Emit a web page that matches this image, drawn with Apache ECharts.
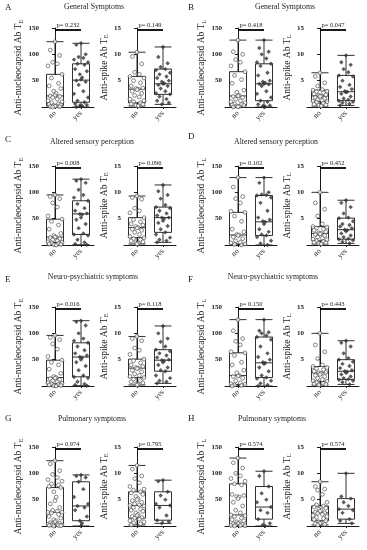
<!DOCTYPE html>
<html><head><meta charset="utf-8">
<script src="https://cdn.jsdelivr.net/npm/echarts@6/dist/echarts.min.js"></script>
<style>html,body{margin:0;padding:0;background:#fff}#c{width:367px;height:550px}</style>
</head><body><div id="c"></div>
<script>
const categories = ['no', 'yes'];
const panelLetters = ['A', 'B', 'C', 'D', 'E', 'F', 'G', 'H'];
const panelTitles = ['General Symptoms', 'General Symptoms', 'Altered sensory perception', 'Altered sensory perception',
  'Neuro-psychiatric symptoms', 'Neuro-psychiatric symptoms', 'Pulmonary symptoms', 'Pulmonary symptoms'];
const timepoint = ['E', 'L', 'E', 'L', 'E', 'L', 'E', 'L'];
const pNucleocapsid = ['0.232', '0.418', '0.008', '0.102', '0.016', '0.150', '0.974', '0.574'];
const pSpike = ['0.149', '0.047', '0.096', '0.452', '0.118', '0.443', '0.795', '0.574'];
const nucTicks = [0, 50, 100, 150];
const spikeTicks = [0, 5, 10, 15];

// box stats [min, Q1, median, Q3, max]
const nucBoxNo = [[0,3,21,62,124],[0,3,21,67,127],[0,5,15,49,95],[0,2,19,62,128],[0,4,16,49,96],[0,3,20,63,126],[0,3,26,73,124],[0,1,21,80,129]];
const nucBoxYes = [[0,9,51,82,121],[0,12,44,82,127],[0.5,20,59,84,125],[0,18,44,94,128],[0.5,17.5,55,82,124],[0,16,44,93,126],[0,10,38,84,97],[0,13,36,75,104]];
const spikeBoxNo = [[0.2,0.8,3.4,5.8,10.4],[0.2,1.0,2.1,3.2,6.5],[0.2,1.4,3.3,5.2,9.3],[0.2,0.8,2.2,3.5,10],[0.2,1.6,3.4,5.1,9.4],[0.2,0.9,2.5,3.7,10],[0.2,1.5,3.9,6.5,11.5],[0.2,1.0,2.5,3.8,8.4]];
const spikeBoxYes = [[0.5,2.4,4.4,7.2,11.4],[0.3,1.2,2.9,6.0,9.8],[0.5,2.4,5.2,7.2,11.4],[0.3,1.1,2.9,5.1,8.5],[0.5,2.8,4.9,6.9,11.4],[0.3,1.25,2.8,5.0,8.6],[0.5,1.1,3.9,6.5,8.7],[0.5,1.3,3.2,5.2,10]];

// individual values
const nucPtsNo = [
  [124,108,98,85,82,78,62,55,45,40,35,30,26,22,21,20,18,15,12,10,8,6,5,4,3,2,1.5,1,0.5,0],
  [127,105,100,90,85,78,67,60,52,45,32,28,22,21,20,18,15,12,10,8,6,5,4,3,2,1,0.5,0],
  [95,92,88,80,72,55,49,45,38,30,22,18,15,15,14,12,10,8,6,5,4,3,2,1,0.5,0],
  [128,110,92,88,80,64,62,55,45,30,25,20,19,18,15,12,8,5,4,2,1,0],
  [96,92,88,80,70,56,49,45,40,32,24,18,16,15,14,12,10,8,6,5,4,3,2,1,0.5,0],
  [126,105,90,85,78,65,63,58,45,40,30,25,20,19,18,15,10,6,4,3,2,1,0],
  [124,118,105,98,92,88,85,80,78,75,73,65,55,48,42,35,30,28,26,26,25,22,18,15,12,10,8,6,5,4,3,3,2,2,1,1,0.5,0],
  [129,120,110,100,95,90,85,80,78,60,58,56,55,52,45,38,30,25,21,20,18,15,12,10,8,6,5,4,3,2,1,1,0.5,0]
];
const nucPtsYes = [
  [121,118,100,95,93,90,85,82,80,72,68,62,56,52,50,48,42,30,25,18,12,9,6,4,3,2,1,0],
  [127,112,105,100,92,85,82,78,65,60,50,48,46,44,44,43,40,30,25,18,12,10,5,3,2,1,0],
  [125,122,118,105,95,90,84,78,70,65,60,59,58,52,48,40,32,22,20,18,10,5,2,0.5],
  [128,118,100,96,95,94,90,80,65,52,48,45,44,40,30,25,20,18,15,8,3,0],
  [124,122,115,100,90,86,82,75,68,62,58,55,54,50,45,38,30,20,17,15,8,4,2,0.5],
  [126,105,102,100,96,93,88,75,62,55,50,45,44,42,35,28,20,16,14,10,5,2,0],
  [97,95,92,84,70,55,42,38,35,30,18,10,5,0],
  [104,95,75,62,50,45,36,30,25,13,5,2,0]
];
const spikePtsNo = [
  [10.4,9.6,8.2,6.6,6.2,5.8,5.5,5.0,4.6,4.0,3.6,3.5,3.4,3.3,3.0,2.6,2.2,1.9,1.5,1.2,1.0,0.8,0.6,0.5,0.3,0.2],
  [6.5,5.8,4.6,4.0,3.3,3.2,3.0,2.9,2.7,2.5,2.3,2.2,2.1,2.0,1.8,1.6,1.4,1.2,1.1,1.0,0.9,0.7,0.5,0.4,0.3,0.2],
  [9.3,9.0,8.7,7.0,6.5,6.1,5.2,4.8,4.4,4.0,3.8,3.5,3.3,3.2,3.0,2.8,2.4,2.0,1.6,1.4,1.2,1.0,0.8,0.6,0.4,0.3,0.2],
  [10,8.0,6.8,5.5,4.0,3.5,3.4,3.2,3.0,2.8,2.5,2.3,2.2,2.1,2.0,1.8,1.5,1.3,1.1,1.0,0.8,0.7,0.5,0.4,0.3,0.2],
  [9.4,9.0,8.6,7.2,6.8,6.0,5.1,4.8,4.4,4.0,3.7,3.5,3.4,3.3,3.0,2.7,2.3,2.0,1.8,1.6,1.3,1.0,0.8,0.6,0.4,0.3,0.2],
  [10,7.8,6.5,5.2,4.0,3.7,3.5,3.3,3.1,2.8,2.6,2.5,2.4,2.2,2.0,1.8,1.5,1.2,1.0,0.9,0.7,0.5,0.4,0.3,0.2],
  [11.5,10.8,9.5,9.0,8.2,7.5,7.0,6.8,6.5,6.3,6.0,5.6,5.2,5.0,4.8,4.5,4.2,4.0,3.9,3.8,3.5,3.2,3.0,2.8,2.5,2.2,2.0,1.8,1.6,1.5,1.3,1.0,0.8,0.6,0.4,0.2],
  [8.4,7.5,7.0,6.8,6.0,5.2,4.5,4.0,3.8,3.6,3.4,3.2,3.0,2.8,2.6,2.5,2.4,2.2,2.0,1.8,1.6,1.4,1.2,1.0,0.8,0.6,0.5,0.4,0.3,0.2]
];
const spikePtsYes = [
  [11.4,9.5,8.3,7.6,7.2,7.0,6.5,6.2,5.8,5.5,5.0,4.8,4.5,4.4,4.2,4.0,3.5,3.0,2.6,2.4,2.0,1.5,1.2,0.8,0.5],
  [9.8,8.5,8.0,7.2,6.6,6.0,5.8,5.0,4.2,3.8,3.4,3.0,2.9,2.8,2.5,2.0,1.6,1.4,1.2,1.0,0.8,0.6,0.3],
  [11.4,10.2,9.5,8.8,7.6,7.2,7.0,6.5,6.0,5.6,5.2,5.2,5.0,4.6,4.2,3.6,3.0,2.4,2.0,1.4,1.0,0.8,0.5],
  [8.5,8.0,7.2,6.0,5.2,5.1,4.5,4.0,3.8,3.5,3.2,2.9,2.8,2.6,2.2,1.8,1.5,1.2,1.1,0.9,0.6,0.3],
  [11.4,10.0,9.0,8.4,7.5,6.9,6.6,6.2,5.8,5.4,5.0,4.9,4.8,4.5,4.0,3.5,3.0,2.8,2.0,1.5,1.0,0.8,0.5],
  [8.6,8.2,7.5,6.2,5.3,5.0,4.6,4.2,3.8,3.4,3.0,2.8,2.7,2.5,2.2,1.8,1.5,1.3,1.2,1.0,0.7,0.3],
  [8.7,8.5,6.5,5.8,5.0,4.2,3.9,3.5,2.0,1.1,0.8,0.5],
  [10,5.6,5.2,4.5,3.8,3.2,3.0,2.5,1.3,1.0,0.5]
];

// layout (not data)
const jitter = [0, -0.6, 0.6, -0.3, 0.3, -0.9, 0.9, -0.45, 0.45, -0.75, 0.75, -0.15, 0.15];
const colX = [0, 183];
const subX = [42, 124];
const rowTop = [28, 166, 307, 447];
const plotH = 79, plotW = 52;
const letterY = [8, 8, 140, 137, 280, 280, 419, 419];
const titleY = [7, 7, 142, 142, 277, 277, 419, 419];
const titleX = [94, 285, 92, 276, 93, 273, 92, 272];
const SERIF = "'Liberation Serif','Times New Roman',serif";
const INK = '#1a1a1a';

const grid = [], xAxis = [], yAxis = [], series = [], graphic = [];

for (let p = 0; p < 8; p++) {
  const col = p % 2, row = Math.floor(p / 2);
  graphic.push({type: 'text', x: colX[col] + 5, y: letterY[p],
    style: {text: panelLetters[p], fontSize: 9, fontFamily: SERIF, fill: INK, verticalAlign: 'middle'}});
  graphic.push({type: 'text', x: titleX[p], y: titleY[p],
    style: {text: panelTitles[p], fontSize: 7.8, fontFamily: SERIF, fill: INK, align: 'center', verticalAlign: 'middle'}});
  for (let s = 0; s < 2; s++) {
    const g = p * 2 + s;
    const ticks = s === 0 ? nucTicks : spikeTicks;
    const yMax = ticks[ticks.length - 1];
    const boxes = s === 0 ? [nucBoxNo[p], nucBoxYes[p]] : [spikeBoxNo[p], spikeBoxYes[p]];
    const ptsNo = s === 0 ? nucPtsNo[p] : spikePtsNo[p];
    const ptsYes = s === 0 ? nucPtsYes[p] : spikePtsYes[p];
    const pv = s === 0 ? pNucleocapsid[p] : pSpike[p];
    const label = s === 0 ? 'Anti-nucleocapsid Ab T' : 'Anti-spike Ab T';
    grid.push({left: colX[col] + subX[s], top: rowTop[row], width: plotW, height: plotH, containLabel: false});
    xAxis.push({type: 'category', gridIndex: g, data: categories, boundaryGap: true,
      axisLine: {lineStyle: {color: INK, width: 1}},
      axisTick: {show: true, alignWithLabel: true, length: 2, lineStyle: {color: INK}},
      axisLabel: {rotate: 45, fontSize: 7.5, fontFamily: SERIF, color: INK, margin: 5},
      splitLine: {show: false}});
    xAxis.push({type: 'value', gridIndex: g, min: -0.5, max: 1.5, show: false});
    yAxis.push({type: 'value', gridIndex: g, min: ticks[0], max: yMax, interval: ticks[1] - ticks[0],
      axisLine: {show: true, lineStyle: {color: INK, width: 1}},
      axisTick: {show: true, length: 3, lineStyle: {color: INK}},
      splitLine: {show: false},
      axisLabel: {fontSize: 7, fontFamily: SERIF, color: INK, margin: 3, fontWeight: 'bold',
        formatter: v => v === 0 ? '' : String(v)},
      name: '{m|' + label + '}{s|' + timepoint[p] + '}',
      nameLocation: 'middle', nameRotate: 90, nameGap: s === 0 ? 15 : 9,
      nameTextStyle: {rich: {
        m: {fontSize: 9.5, fontFamily: SERIF, color: INK, lineHeight: 12},
        s: {fontSize: 6.5, fontFamily: SERIF, color: INK, lineHeight: 12, verticalAlign: 'bottom'}
      }}});
    series.push({type: 'boxplot', xAxisIndex: 2 * g, yAxisIndex: g, data: boxes, boxWidth: [17, 17],
      z: 2, silent: true, animation: false,
      itemStyle: {color: '#fff', borderColor: INK, borderWidth: 0.9},
      markLine: {silent: true, animation: false, symbol: ['none', 'none'],
        lineStyle: {color: '#000', width: 1.8, type: 'solid'},
        label: {show: true, position: 'insideMiddleTop', formatter: 'p= ' + pv, fontSize: 6.5,
          fontFamily: SERIF, color: INK, distance: 1},
        data: [[{coord: [0, yMax * 0.975]}, {coord: [1, yMax * 0.975]}]]}});
    series.push({type: 'scatter', xAxisIndex: 2 * g + 1, yAxisIndex: g, z: 3, silent: true, animation: false,
      symbol: 'circle', symbolSize: 3.8,
      itemStyle: {color: '#fff', borderColor: '#444', borderWidth: 0.8},
      data: ptsNo.map((v, i) => [0 + jitter[i % jitter.length] * 0.3, v])});
    series.push({type: 'scatter', xAxisIndex: 2 * g + 1, yAxisIndex: g, z: 3, silent: true, animation: false,
      symbol: 'diamond', symbolSize: 4.4,
      itemStyle: {color: '#333'},
      data: ptsYes.map((v, i) => [1 + jitter[i % jitter.length] * 0.3, v])});
  }
}

const chart = echarts.init(document.getElementById('c'), null, {renderer: 'canvas'});
chart.setOption({backgroundColor: '#fff', animation: false, grid, xAxis, yAxis, series, graphic});
</script></body></html>
